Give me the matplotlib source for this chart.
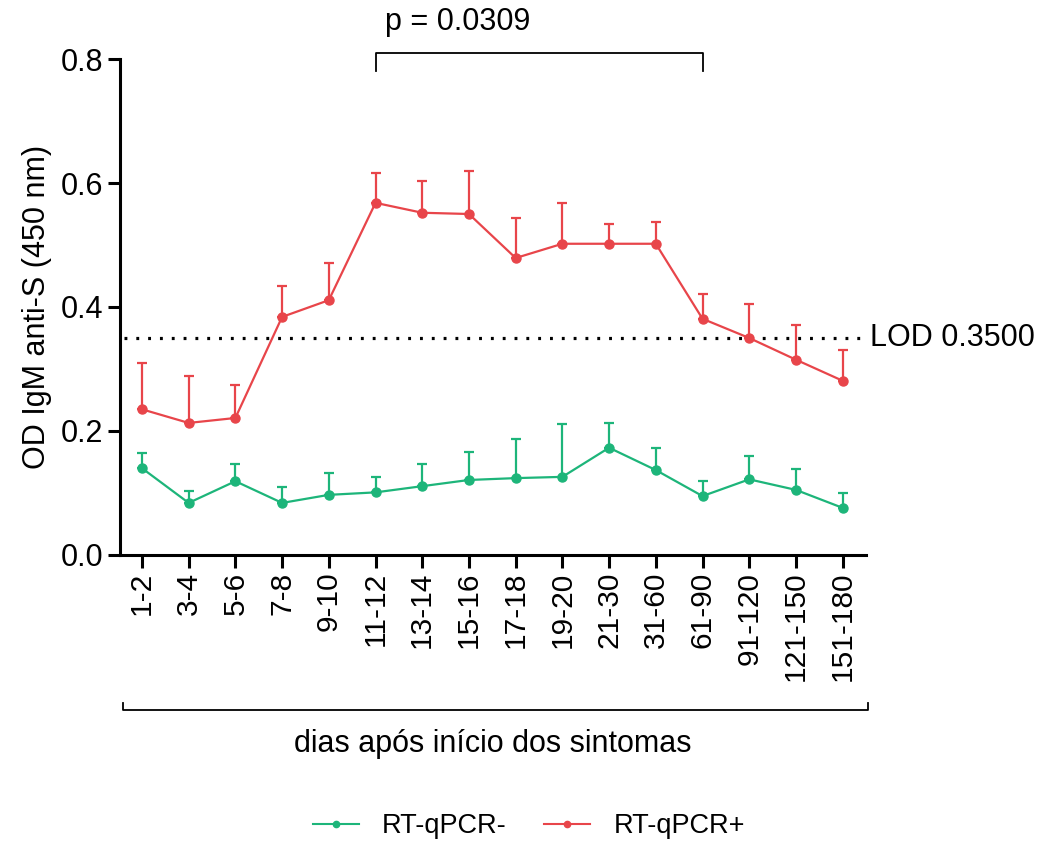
import matplotlib.pyplot as plt
from matplotlib.lines import Line2D
import numpy as np

plt.rcParams['font.family'] = ['Liberation Sans', 'DejaVu Sans']

categorias = ['1-2', '3-4', '5-6', '7-8', '9-10', '11-12', '13-14', '15-16', '17-18',
              '19-20', '21-30', '31-60', '61-90', '91-120', '121-150', '151-180']

# RT-qPCR- (verde)
neg_media = [0.140, 0.084, 0.119, 0.084, 0.097, 0.101, 0.111, 0.121, 0.124,
             0.126, 0.173, 0.137, 0.095, 0.122, 0.105, 0.076]
neg_topo = [0.165, 0.103, 0.147, 0.110, 0.132, 0.125, 0.147, 0.166, 0.187,
            0.211, 0.213, 0.173, 0.119, 0.160, 0.139, 0.100]

# RT-qPCR+ (vermelho)
pos_media = [0.235, 0.213, 0.221, 0.384, 0.411, 0.568, 0.552, 0.550, 0.479,
             0.502, 0.502, 0.502, 0.381, 0.350, 0.315, 0.281]
pos_topo = [0.310, 0.289, 0.274, 0.434, 0.471, 0.616, 0.603, 0.619, 0.544,
            0.568, 0.534, 0.537, 0.421, 0.405, 0.371, 0.331]

lod = 0.35
p_valor = 'p = 0.0309'

verde = '#1db57a'
vermelho = '#e8454a'

x = np.arange(len(categorias))
fig = plt.figure(figsize=(10.39, 8.49), dpi=100)
ax = fig.add_axes([0.1155, 0.3463, 0.718, 0.5842])

handles = []
for media, topo, cor, nome in [(neg_media, neg_topo, verde, 'RT-qPCR-'),
                               (pos_media, pos_topo, vermelho, 'RT-qPCR+')]:
    media = np.array(media)
    erro = np.array(topo) - media
    ax.errorbar(x, media, yerr=[np.zeros_like(erro), erro], color=cor, lw=1.6,
                marker='o', ms=6.5, capsize=3.5, capthick=1.6, elinewidth=1.6)
    handles.append(Line2D([], [], color=cor, lw=1.5, marker='o', ms=4.5, label=nome))

ax.axhline(lod, color='black', ls=(0, (0.9, 2.8)), lw=2.3, xmin=0.005, xmax=0.995)
ax.text(1.005, lod, 'LOD 0.3500', transform=ax.get_yaxis_transform(),
        va='center', ha='left', fontsize=22)

ax.set_xlim(-0.47, 15.5)
ax.set_ylim(0, 0.8)
ax.set_yticks([0, 0.2, 0.4, 0.6, 0.8])
ax.set_yticklabels(['0.0', '0.2', '0.4', '0.6', '0.8'], fontsize=22)
ax.set_xticks(x)
ax.set_xticklabels(categorias, rotation=90, fontsize=21.5)
ax.set_ylabel('OD IgM anti-S (450 nm)', fontsize=22, labelpad=6)
ax.tick_params(width=2.2, length=9, pad=3)
for s in ['top', 'right']:
    ax.spines[s].set_visible(False)
for s in ['left', 'bottom']:
    ax.spines[s].set_linewidth(2.2)

# colchete do p-valor
ax.plot([5, 5, 12, 12], [0.78, 0.81, 0.81, 0.78], color='black', lw=1.3, clip_on=False)
ax.text(5.2, 0.836, p_valor, fontsize=22, ha='left', va='bottom')

# colchete do eixo x
y0 = -0.250
ax.plot([-0.4, -0.4, 15.55, 15.55], [y0 + 0.012, y0, y0, y0 + 0.012],
        color='black', lw=1.3, clip_on=False)
ax.text(7.5, -0.305, 'dias após início dos sintomas', fontsize=22, ha='center', va='center')

fig.legend(handles=handles, loc='center', bbox_to_anchor=(0.509, 0.027), ncol=2,
           frameon=False, fontsize=19.5, handlelength=1.7, handletextpad=0.85,
           columnspacing=1.4)

fig.savefig('out.png', dpi=100)
